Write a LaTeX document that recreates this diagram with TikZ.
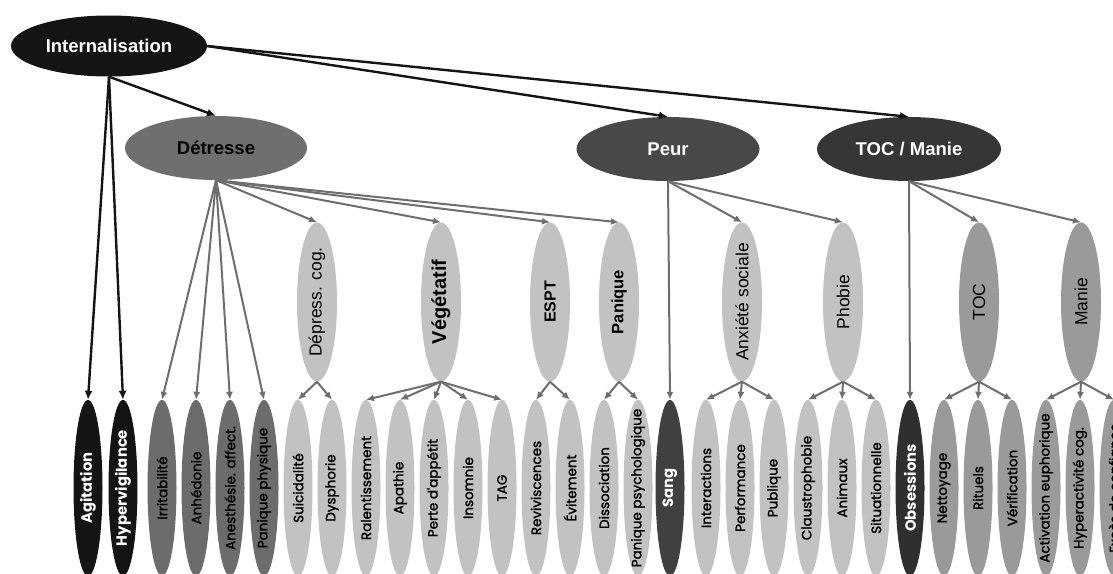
\documentclass[tikz,border=0pt]{standalone}
\usepackage{fontspec}
\setmainfont{Liberation Sans}
\newfontfamily\leaffont{Poppins}[FakeBold=1.6]
\newfontfamily\leafb{Poppins}
\usetikzlibrary{shapes.geometric,arrows.meta}
\definecolor{cBlack}{HTML}{141414}
\definecolor{cDet}{HTML}{6F6F6F}
\definecolor{cPeur}{HTML}{484848}
\definecolor{cTocM}{HTML}{363636}
\definecolor{cLight}{HTML}{C2C2C2}
\definecolor{cMed}{HTML}{9A9A9A}
\definecolor{cDark}{HTML}{6C6C6C}
\definecolor{cSang}{HTML}{404040}
\definecolor{cObs}{HTML}{2F2F2F}
\definecolor{cArrow}{HTML}{6E6E6E}
\newcommand\mkleaf[5]{%
  \node[leafshape, fill=#3] (#1) at (#2,488) {};
  \node[leaftext, text=#4] at (#1.center) {#5};}
\newcommand\wb{\leafb\fontsize{14.8}{15}\selectfont\bfseries}
\begin{document}
\begin{tikzpicture}[x=1pt,y=-1pt,
  topshape/.style={ellipse, inner sep=0pt, font=\fontsize{18.5}{20}\selectfont\bfseries},
  midshape/.style={ellipse, minimum width=40pt, minimum height=159pt, inner sep=0pt},
  midtext/.style={rotate=90, inner sep=0pt, font=\fontsize{17.5}{18}\selectfont},
  leafshape/.style={ellipse, minimum width=29pt, minimum height=176pt, inner sep=0pt},
  leaftext/.style={rotate=90, inner sep=0pt, font=\leaffont\fontsize{13.5}{14}\selectfont},
  blackarrow/.style={draw=cBlack, line width=2.4pt, -{Latex[length=9pt,width=8pt]}},
  grayarrow/.style={draw=cArrow, line width=2pt, -{Latex[length=8pt,width=7pt]}},
]
\useasboundingbox (0,0) rectangle (1113,573);
\clip (0,0) rectangle (1113,573);

% top level
\node[topshape, fill=cBlack, text=white, minimum width=196pt, minimum height=61pt] (int) at (109,46) {Internalisation};
\node[topshape, fill=cDet, minimum width=182pt, minimum height=64pt] (det) at (216,148) {Détresse};
\node[topshape, fill=cPeur, text=white, minimum width=183pt, minimum height=64pt] (peur) at (668,149) {Peur};
\node[topshape, fill=cTocM, text=white, minimum width=184pt, minimum height=64pt] (tocm) at (909,149) {TOC / Manie};

% middle level
\node[midshape, fill=cLight] (dep) at (317,302) {};
\node[midtext] at (dep.center) {Dépress. cog.};
\node[midshape, fill=cLight] (veg) at (441,302) {};
\node[midtext, font=\fontsize{20}{22}\selectfont\bfseries] at (veg.center) {Végétatif};
\node[midshape, fill=cLight] (espt) at (550,302) {};
\node[midtext, font=\fontsize{16}{18}\selectfont\bfseries] at (espt.center) {ESPT};
\node[midshape, fill=cLight] (pan) at (619,302) {};
\node[midtext, font=\fontsize{16.5}{18}\selectfont\bfseries] at (pan.center) {Panique};
\node[midshape, fill=cLight] (anx) at (742,302) {};
\node[midtext] at (anx.center) {Anxiété sociale};
\node[midshape, fill=cLight] (pho) at (843,302) {};
\node[midtext] at (pho.center) {Phobie};
\node[midshape, fill=cMed] (toc) at (979,302) {};
\node[midtext] at (toc.center) {TOC};
\node[midshape, fill=cMed] (man) at (1081,302) {};
\node[midtext] at (man.center) {Manie};

% leaves
\mkleaf{agi}{88}{cBlack}{white}{\wb Agitation}
\mkleaf{hyp}{123}{cBlack}{white}{\wb Hypervigilance}
\mkleaf{irr}{162}{cDark}{black}{Irritabilité}
\mkleaf{anh}{196}{cDark}{black}{Anhédonie}
\mkleaf{ane}{230}{cDark}{black}{Anesthésie. affect.}
\mkleaf{pph}{264}{cDark}{black}{Panique physique}
\mkleaf{sui}{298}{cLight}{black}{Suicidalité}
\mkleaf{dys}{332}{cLight}{black}{Dysphorie}
\mkleaf{ral}{366}{cLight}{black}{Ralentissement}
\mkleaf{apa}{400}{cLight}{black}{Apathie}
\mkleaf{per}{434}{cLight}{black}{Perte d'appétit}
\mkleaf{ins}{468}{cLight}{black}{Insomnie}
\mkleaf{tag}{502}{cLight}{black}{TAG}
\mkleaf{rev}{536}{cLight}{black}{Reviviscences}
\mkleaf{evi}{570}{cLight}{black}{Évitement}
\mkleaf{dis}{604}{cLight}{black}{Dissociation}
\mkleaf{pps}{638}{cLight}{black}{Panique psychologique}
\mkleaf{san}{670}{cSang}{white}{\wb Sang}
\mkleaf{int2}{706}{cLight}{black}{Interactions}
\mkleaf{perf}{740}{cLight}{black}{Performance}
\mkleaf{pub}{774}{cLight}{black}{Publique}
\mkleaf{cla}{808}{cLight}{black}{Claustrophobie}
\mkleaf{ani}{842}{cLight}{black}{Animaux}
\mkleaf{sit}{876}{cLight}{black}{Situationnelle}
\mkleaf{obs}{910}{cObs}{white}{\wb Obsessions}
\mkleaf{net}{944}{cMed}{black}{Nettoyage}
\mkleaf{rit}{978}{cMed}{black}{Rituels}
\mkleaf{ver}{1012}{cMed}{black}{Vérification}
\mkleaf{act}{1046}{cMed}{black}{Activation euphorique}
\mkleaf{hca}{1080}{cMed}{black}{Hyperactivité cog.}
\mkleaf{exc}{1114}{cMed}{black}{Excès de confiance}

% connectors from Internalisation
\draw[blackarrow] (int.south) -- (agi.north);
\draw[blackarrow] (int.south) -- (hyp.north);
\draw[blackarrow] (int.south) -- (det.north);
\draw[blackarrow] (int.east) -- (peur.north);
\draw[blackarrow] (int.east) -- (tocm.north);

% Détresse
\foreach \t in {irr,anh,ane,pph,dep,veg,espt,pan}
  \draw[grayarrow] (det.south) -- (\t.north);
% mid to leaves
\foreach \t in {sui,dys} \draw[grayarrow] (dep.south) -- (\t.north);
\foreach \t in {ral,apa,per,ins,tag} \draw[grayarrow] (veg.south) -- (\t.north);
\foreach \t in {rev,evi} \draw[grayarrow] (espt.south) -- (\t.north);
\foreach \t in {dis,pps} \draw[grayarrow] (pan.south) -- (\t.north);
% Peur
\foreach \t in {san,anx,pho} \draw[grayarrow] (peur.south) -- (\t.north);
\foreach \t in {int2,perf,pub} \draw[grayarrow] (anx.south) -- (\t.north);
\foreach \t in {cla,ani,sit} \draw[grayarrow] (pho.south) -- (\t.north);
% TOC / Manie
\foreach \t in {obs,toc,man} \draw[grayarrow] (tocm.south) -- (\t.north);
\foreach \t in {net,rit,ver} \draw[grayarrow] (toc.south) -- (\t.north);
\foreach \t in {act,hca,exc} \draw[grayarrow] (man.south) -- (\t.north);
\end{tikzpicture}
\end{document}
